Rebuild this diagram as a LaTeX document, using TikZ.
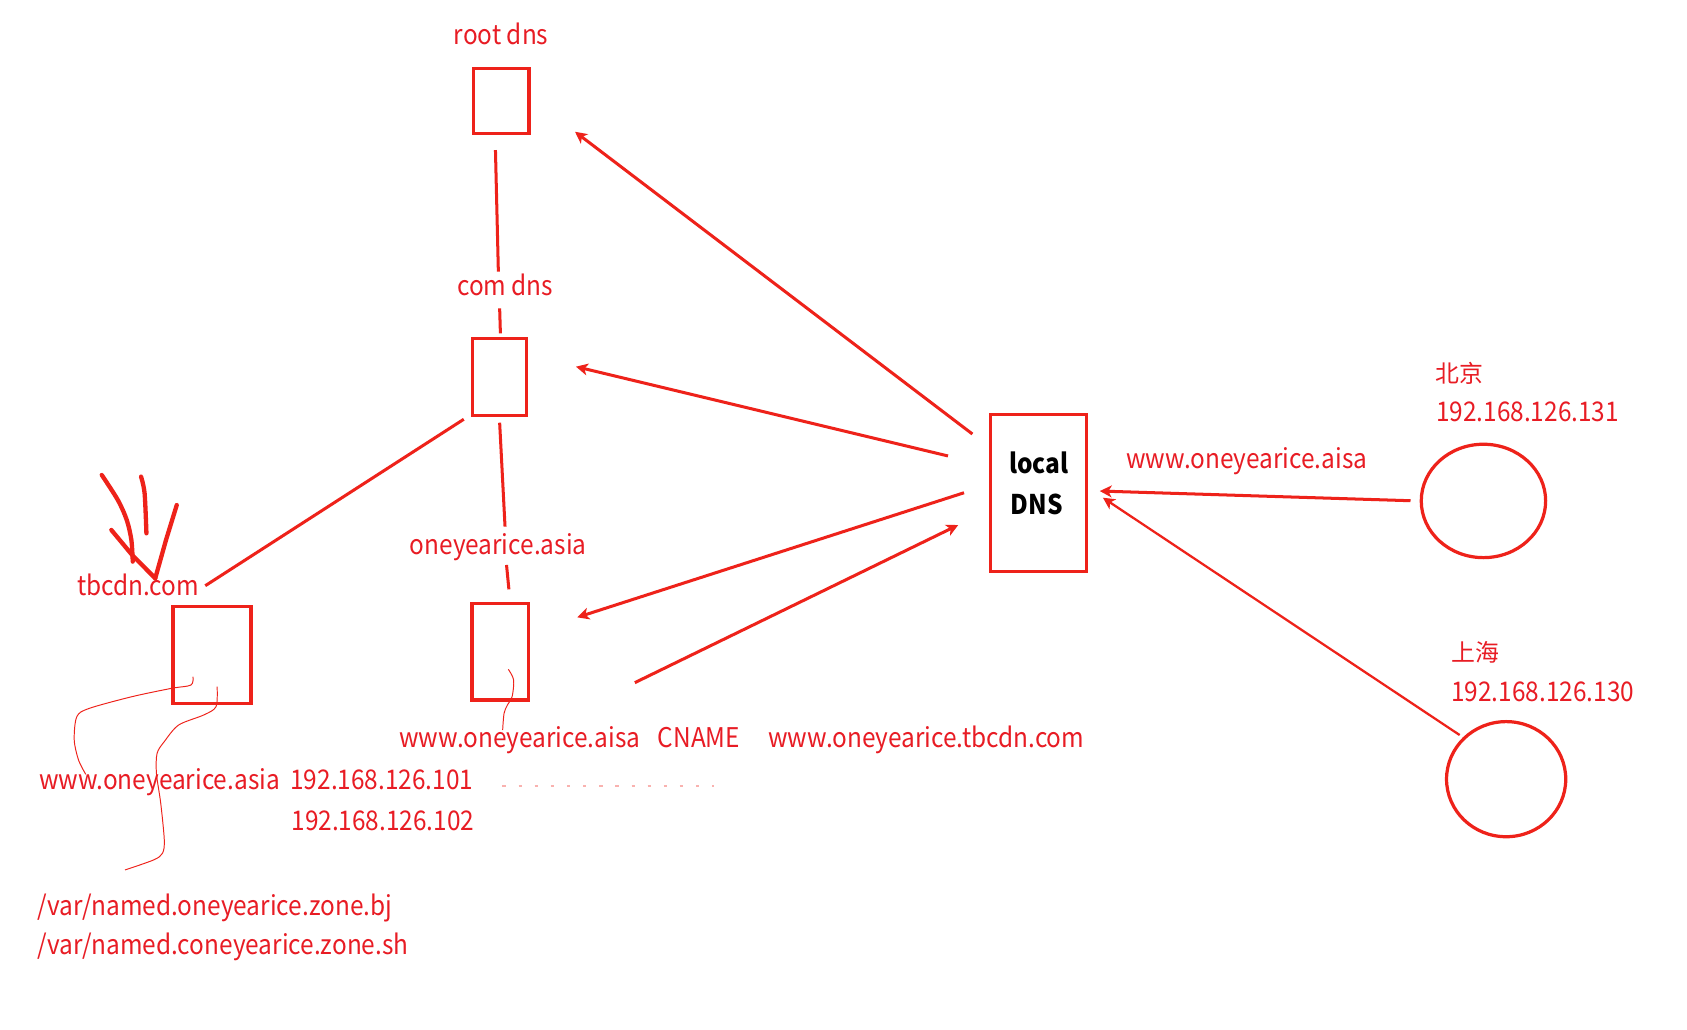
\documentclass[tikz,border=0pt]{standalone}
\usepackage{fontspec}
\setmainfont[FakeStretch=0.9]{Noto Sans CJK SC}
\newfontfamily\cjkfont{Noto Sans CJK SC}
\usetikzlibrary{arrows.meta,shapes.geometric}
\definecolor{inkred}{RGB}{238,34,26}
\definecolor{txtred}{RGB}{232,28,36}
\newcommand\lblsize{\fontsize{12.6pt}{15pt}\selectfont}
\newcommand\cjksize{\cjkfont\fontsize{11.1pt}{13pt}\selectfont}

\begin{document}
\begin{tikzpicture}[x=0.5pt,y=-0.5pt,
  box/.style={draw=inkred,line width=1.55pt,inner sep=0pt,outer sep=0pt,rectangle},
  host/.style={draw=inkred,line width=1.5pt,ellipse,inner sep=0pt,outer sep=0pt},
  lbl/.style={text=txtred,inner sep=0pt,anchor=base west,font=\lblsize},
  cjk/.style={lbl,font=\cjksize},
  dnslbl/.style={text=black,inner sep=0pt,anchor=base west,font=\lblsize\bfseries},
  wire/.style={draw=inkred,line width=1.4pt},
  arr/.style={wire,-{Stealth[length=5.5pt,width=5.5pt,inset=1.5pt]}},
  thinarr/.style={arr,line width=1.05pt},
  ink/.style={draw=inkred,line width=0.45pt},
  pen/.style={draw=inkred,line width=2pt,line cap=round,line join=round},
]
\fill[white] (0,0) rectangle (1568,957);
\useasboundingbox (0,0) rectangle (1568,957);

% servers
\node[box,minimum width=25.65pt,minimum height=30.25pt] (root) at (466,93.8) {};
\node[box,minimum width=25.25pt,minimum height=36pt] (com) at (464.2,350.4) {};
\node[box,minimum width=26.15pt,minimum height=45pt] (oney) at (465,605.7) {};
\node[box,minimum width=36.2pt,minimum height=45pt] (tbcdn) at (197,608.8) {};
\node[box,minimum width=44.6pt,minimum height=73.2pt] (ldns) at (965.4,458.2) {};

% clients
\node[host,minimum width=57.8pt,minimum height=52.7pt] (bj) at (1378.8,465.6) {};
\node[host,minimum width=55.4pt,minimum height=53.5pt] (sh) at (1399.9,724.2) {};

% labels
\node[lbl] (rootlbl) at (421.5,41) {root dns};
\node[lbl] (comlbl) at (424.5,274.2) {com dns};
\node[lbl] (oneylbl) at (380.4,515.8) {oneyearice.asia};
\node[lbl] (tbcdnlbl) at (71.4,553.3) {tbcdn.com};
\node[lbl] (cnamefrom) at (370.8,694.6) {www.oneyearice.aisa};
\node[lbl] (cnamekw) at (611,694.6) {CNAME};
\node[lbl] (cnameto) at (713.8,694.6) {www.oneyearice.tbcdn.com};
\node[lbl] (arec) at (35.9,733.6) {www.oneyearice.asia};
\node[lbl] (ip101) at (269.5,733.6) {192.168.126.101};
\node[lbl] (ip102) at (270.5,771.5) {192.168.126.102};
\node[lbl] (zonebj) at (34.9,850.5) {/var/named.oneyearice.zone.bj};
\node[lbl] (zonesh) at (34.9,887.6) {/var/named.coneyearice.zone.sh};
\node[lbl] (query) at (1046.5,435.3) {www.oneyearice.aisa};
\node[cjk] (bjname) at (1333.6,355.4) {北京};
\node[lbl] (bjip) at (1334.4,391.9) {192.168.126.131};
\node[cjk] (shname) at (1348.5,615) {上海};
\node[lbl] (ship) at (1348.5,652.2) {192.168.126.130};
\node[dnslbl] (ldns1) at (937.7,440) {local};
\node[dnslbl] (ldns2) at (938.9,478) {DNS};

% hierarchy links
\draw[wire] ([shift={(-5.5,15.4)}]root.south) -- ([shift={(-1,-61.9)}]com.north);
\draw[wire] ([shift={(0.2,-27.8)}]com.north) -- ([shift={(0.9,-4.6)}]com.north);
\draw[wire] ([shift={(0.2,6.5)}]com.south) -- ([shift={(4.4,-71.2)}]oney.north);
\draw[wire] ([shift={(5.8,-35.6)}]oney.north) -- ([shift={(8,-12.9)}]oney.north);
\draw[wire] ([shift={(-7.9,3.3)}]com.south west) -- ([shift={(-42.4,-19.4)}]tbcdn.north east);

% queries from the local resolver
\draw[arr] ([shift={(-17,18.4)}]ldns.north west) -- ([shift={(42.8,-1.6)}]root.south east);
\draw[arr] ([shift={(-39.7,-34.4)}]ldns.west) -- ([shift={(45.9,-9.6)}]com.east);
\draw[arr] ([shift={(-24.8,-0.2)}]ldns.west) -- ([shift={(45.4,-31.9)}]oney.east);
\draw[arr] ([shift={(98.9,28.8)}]oney.east) -- ([shift={(-30.2,29.8)}]ldns.west);
\draw[arr] ([shift={(-10,-0.2)}]bj.west) -- ([shift={(12.2,-1.8)}]ldns.east);
\draw[thinarr] ([shift={(-43.2,-41)}]sh.center) -- ([shift={(15.1,4.4)}]ldns.east);

% pen marks pointing at tbcdn.com
\draw[pen] plot[smooth] coordinates {(94.6,441.5) (109.5,464.7) (117.8,483.3) (122.1,501.9) (123.4,522)};
\draw[pen] plot[smooth] coordinates {(131.1,443) (134.4,458.5) (136.1,495.7)};
\draw[pen] (164.3,469.4) -- (154.3,501.9) -- (144.3,537.5);
\draw[pen] (103.5,492.6) -- (122.8,515.8) -- (144.3,537.5);

% thin annotation strokes
\draw[ink] plot[smooth] coordinates {(179.3,629) (177.5,636.7) (159.3,639.8) (122.8,647.5) (83,658.4) (71.4,666.1) (69,687.8) (73,706.4) (79.7,719.7)};
\draw[ink] plot[smooth] coordinates {(201.8,638.2) (200.8,656.8) (189.2,664.6) (166,673.9) (152.7,689.3) (146,700.2) (145.4,718.8) (149.4,746.6) (152.7,780.7) (151,793.1) (142.7,799.3) (116.2,808.6)};
\draw[ink] plot[smooth] coordinates {(472.5,622.1) (477.4,632) (476,647.5) (471.6,655.3) (468.5,663) (467.2,678.5)};
\draw[draw=inkred!35,line width=0.6pt,dash pattern=on 1.5pt off 6pt] (467,730.6) -- (663.8,730.6);
\end{tikzpicture}
\end{document}
